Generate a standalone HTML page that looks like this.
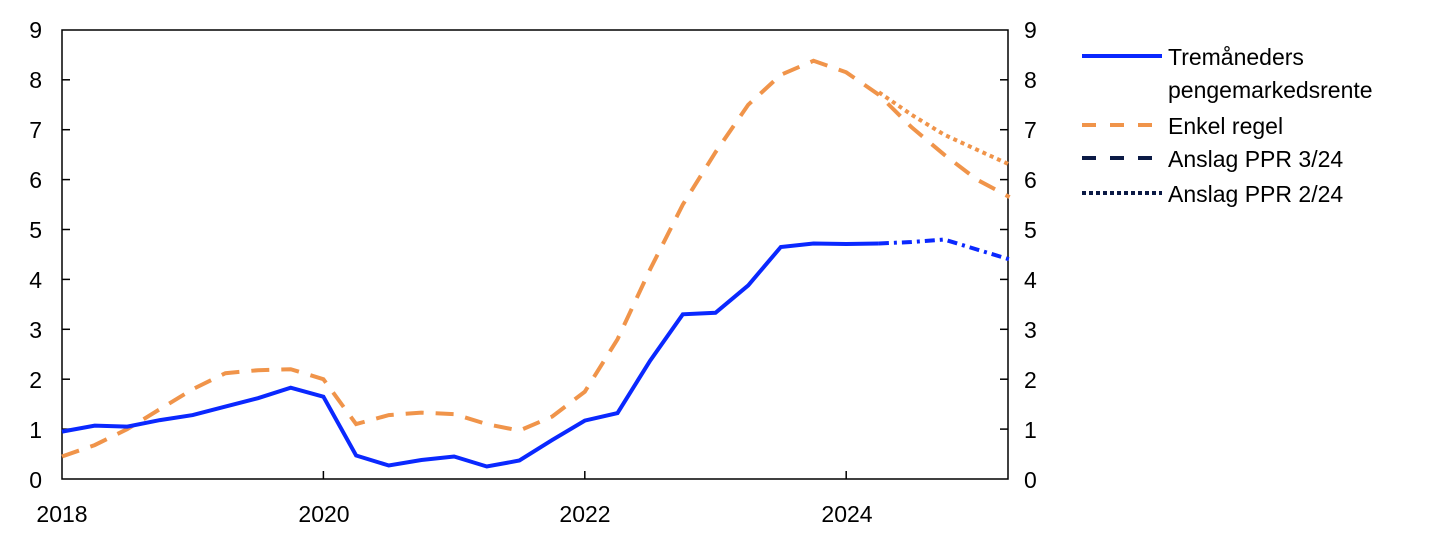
<!DOCTYPE html><html><head><meta charset="utf-8"><style>body{margin:0;background:#fff}svg{display:block}text{font-family:"Liberation Sans",sans-serif;font-size:23px;fill:#000}</style></head><body>
<svg id="s" width="1445" height="543" xmlns="http://www.w3.org/2000/svg">
<g stroke="#000" stroke-width="1.5" fill="none">
<rect x="62" y="30" width="946" height="449"/>
</g>
<g id="ticks" stroke="#000" stroke-width="1.5"></g>
<g text-anchor="end">
<text x="42" y="488">0</text><text x="42" y="438">1</text><text x="42" y="388">2</text><text x="42" y="338">3</text><text x="42" y="288">4</text><text x="42" y="238">5</text><text x="42" y="188">6</text><text x="42" y="138">7</text><text x="42" y="88">8</text><text x="42" y="38">9</text>
</g>
<g text-anchor="start">
<text x="1024" y="488">0</text><text x="1024" y="438">1</text><text x="1024" y="388">2</text><text x="1024" y="338">3</text><text x="1024" y="288">4</text><text x="1024" y="238">5</text><text x="1024" y="188">6</text><text x="1024" y="138">7</text><text x="1024" y="88">8</text><text x="1024" y="38">9</text>
</g>
<g text-anchor="middle">
<text x="62" y="522">2018</text><text x="324" y="522">2020</text><text x="585" y="522">2022</text><text x="847" y="522">2024</text>
</g>
<g id="lines" fill="none" stroke-width="4"></g>
<g stroke-width="4">
<line x1="1082" y1="56" x2="1162" y2="56" stroke="#0a28ff"/>
<line x1="1082" y1="125" x2="1162" y2="125" stroke="#f0944a" stroke-dasharray="14,14"/>
<line x1="1082" y1="158" x2="1162" y2="158" stroke="#0b1a45" stroke-dasharray="14,14"/>
<line x1="1082" y1="193" x2="1162" y2="193" stroke="#0b1a45" stroke-dasharray="4,3"/>
</g>
<text x="1168" y="65">Tremåneders</text>
<text x="1168" y="98">pengemarkedsrente</text>
<text x="1168" y="134">Enkel regel</text>
<text x="1168" y="167">Anslag PPR 3/24</text>
<text x="1168" y="202">Anslag PPR 2/24</text>
</svg>
<script>
var X=t=>62+(t-2018)*130.7,Y=v=>479-49.9*v;
var tk=document.getElementById('ticks'),h='';
for(var i=1;i<9;i++){var y=Y(i);h+=`<line x1="62" y1="${y}" x2="70" y2="${y}"/><line x1="1000" y1="${y}" x2="1008" y2="${y}"/>`;}
[2020,2022,2024].forEach(t=>{h+=`<line x1="${X(t)}" y1="479" x2="${X(t)}" y2="471"/>`});
tk.innerHTML=h;
function p(a,t0){return a.map((v,i)=>(i?'L':'M')+X(t0+i*0.25).toFixed(1)+','+Y(v).toFixed(1)).join('');}
var blue=[0.95,1.07,1.05,1.18,1.28,1.45,1.62,1.83,1.65,0.47,0.27,0.38,0.45,0.25,0.37,0.78,1.17,1.32,2.37,3.3,3.33,3.88,4.65,4.72,4.71,4.72];
var blueF=[4.72,4.75,4.8,4.6,4.4];
var or=[0.45,0.68,1.0,1.4,1.8,2.12,2.18,2.2,2.0,1.1,1.28,1.33,1.3,1.1,0.97,1.25,1.75,2.8,4.2,5.5,6.55,7.5,8.1,8.38,8.15,7.7,7.05,6.5,6.0,5.65];
var orD=[7.75,7.3,6.9,6.6,6.3];
var L=document.getElementById('lines');
L.innerHTML=`<path d="${p(or,2018)}" stroke="#f0944a" stroke-dasharray="18,12"/>
<path d="${p(orD,2024.25)}" stroke="#f0944a" stroke-dasharray="4,4"/>
<path d="${p(blue,2018)}" stroke="#0a28ff"/>
<path d="${p(blueF,2024.25)}" stroke="#0a28ff" stroke-dasharray="10,5,3,5"/>`;
</script>
</body></html>
